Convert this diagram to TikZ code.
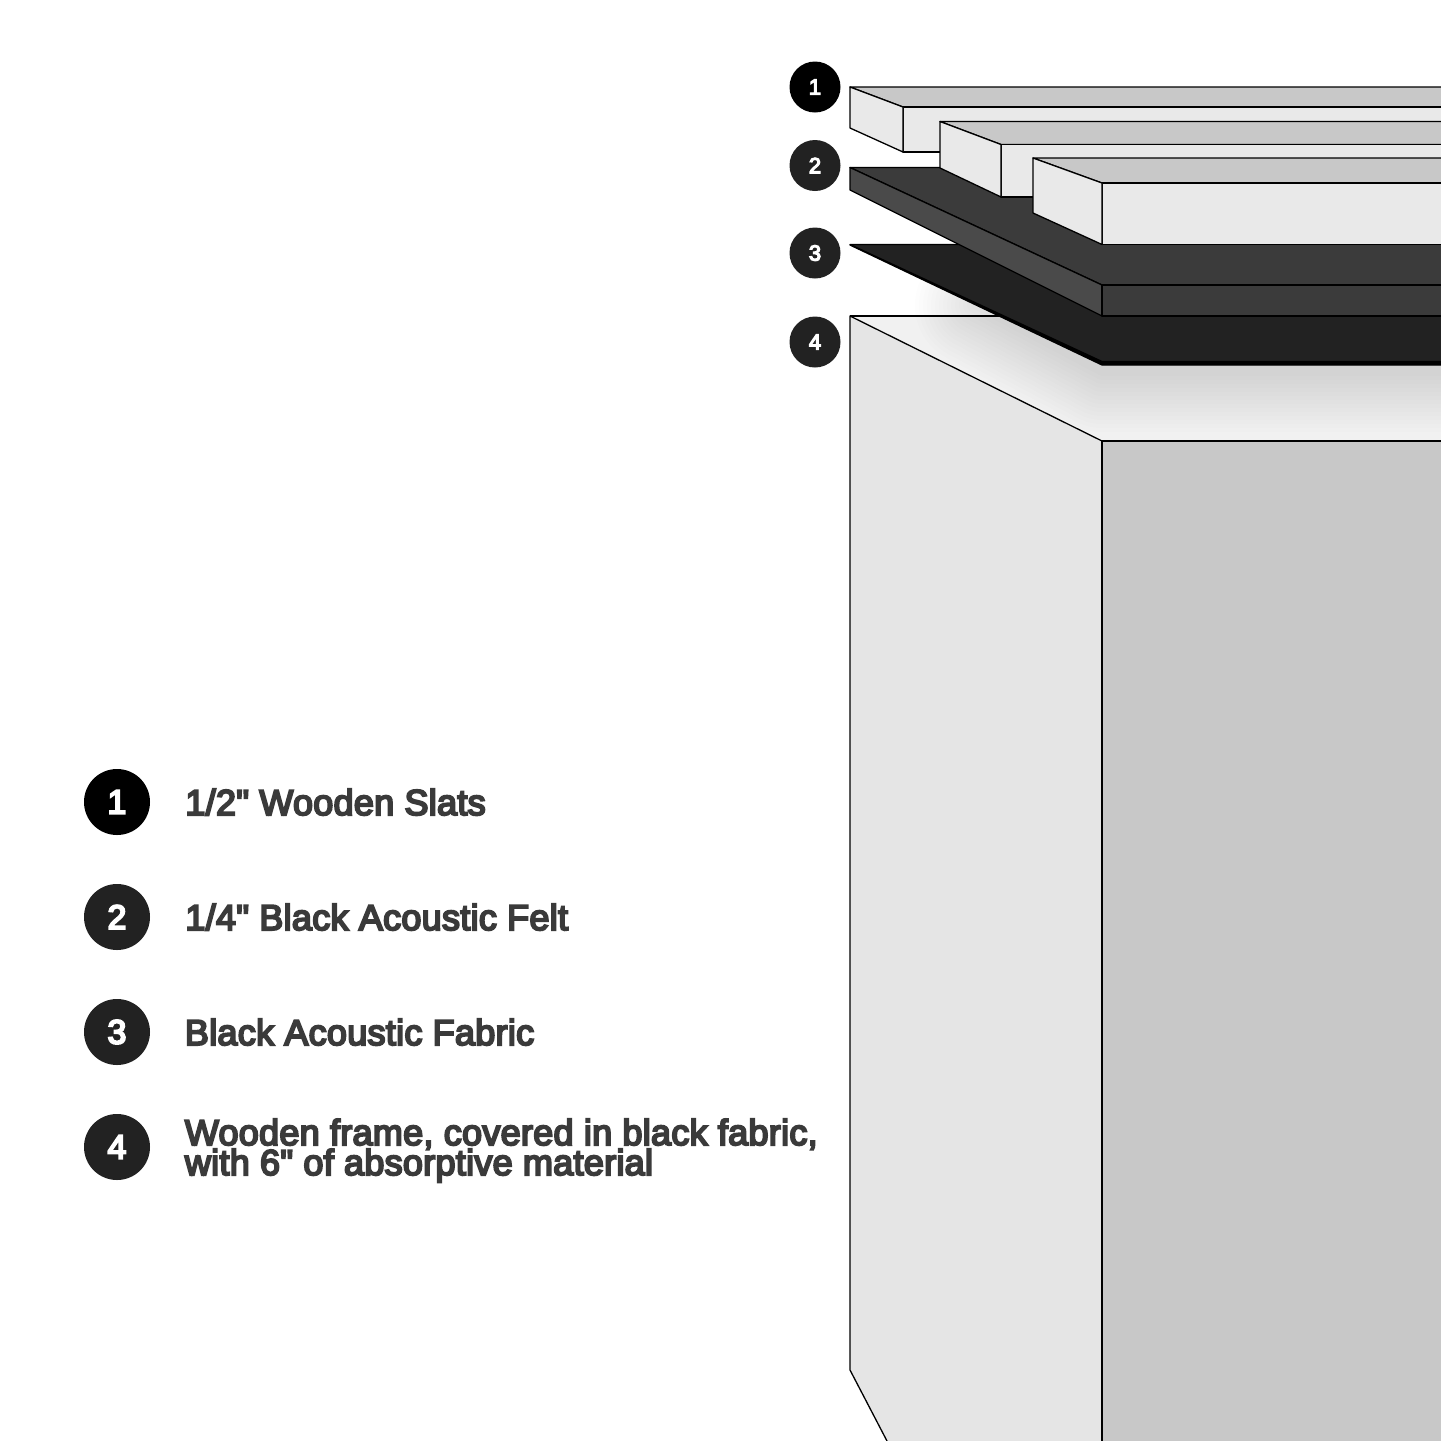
\documentclass[tikz,border=0pt]{standalone}
\usepackage{fontspec}
\setmainfont{Liberation Sans}
\newfontfamily\labelfont[FakeBold=5.5,LetterSpace=0.8]{Liberation Sans}
\newfontfamily\badgefont[FakeBold=5.5]{Liberation Sans}
\definecolor{inktext}{HTML}{3A3A3A}
\definecolor{woodtop}{HTML}{C8C8C8}
\definecolor{woodface}{HTML}{E9E9E9}
\definecolor{felttop}{HTML}{3B3B3B}
\definecolor{feltside}{HTML}{4A4A4A}
\definecolor{fabric}{HTML}{222222}
\definecolor{frametop}{HTML}{F1F1F1}
\definecolor{frameleft}{HTML}{E5E5E5}
\definecolor{frameright}{HTML}{C8C8C8}
\tikzset{
  face/.style={draw=black,line width=0.65pt,line join=round},
  bigbadge/.style={circle,inner sep=0pt,minimum size=33pt,text=white,font=\badgefont\fontsize{17}{17}\selectfont},
  smallbadge/.style={circle,inner sep=0pt,minimum size=25.5pt,text=white,font=\badgefont\fontsize{11}{11}\selectfont},
  legendtext/.style={anchor=base west,inner sep=0pt,text=inktext,font=\labelfont\fontsize{18}{15}\selectfont}
}
\begin{document}
\begin{tikzpicture}[x=0.5pt,y=-0.5pt]
\useasboundingbox (0,0) rectangle (1441,1441);
\fill[white] (0,0) rectangle (1441,1441);
\begin{scope}
\clip (0,0) rectangle (1441,1441);
% frame
\fill[frametop] (850,316) -- (1441,316) -- (1441,441) -- (1102,441) -- cycle;
% cast shadow
\begin{scope}
\clip (850,250) -- (1441,250) -- (1441,441) -- (1102,441) -- (850,316) -- cycle;
\foreach \w in {8,16,...,120} {
  \begin{scope}[transparency group,opacity=0.0085]
  \filldraw[black,line width=\w*0.5pt,line join=round]
    (975,305) -- (1102,372) -- (1480,372) -- (1480,300) -- cycle;
  \end{scope}
}
\end{scope}
\draw[face,fill=frameleft] (850,316) -- (1102,441) -- (1102,1450) -- (891.7,1450) -- (850,1370) -- cycle;
\draw[face,fill=frameright] (1102,441) -- (1450,441) -- (1450,1450) -- (1102,1450) -- cycle;
\draw[face] (850,316) -- (1102,316);
% fabric
\draw[face,fill=black] (850,245) -- (1102,365) -- (1450,365) -- (1450,300) -- cycle;
\draw[face,fill=fabric] (850,244.5) -- (1450,244.5) -- (1450,361.5) -- (1102,361.5) -- cycle;
% felt
\draw[face,fill=felttop] (850,167.5) -- (1450,167.5) -- (1450,285) -- (1102,285) -- cycle;
\draw[face,fill=feltside] (850,167.5) -- (1102,285) -- (1102,316) -- (850,190) -- cycle;
\draw[face,fill=felttop] (1102,285) -- (1450,285) -- (1450,316) -- (1102,316) -- cycle;
% slat 1
\draw[face,fill=woodtop] (850,87) -- (1450,87) -- (1450,107) -- (903,107) -- cycle;
\draw[face,fill=woodface] (903,107) -- (1450,107) -- (1450,152) -- (903,152) -- cycle;
\draw[face,fill=woodface] (850,87) -- (903,107) -- (903,152) -- (850,128) -- cycle;
% slat 2
\draw[face,fill=woodtop] (940,121.5) -- (1450,121.5) -- (1450,144.5) -- (1001,144.5) -- cycle;
\draw[face,fill=woodface] (1001,144.5) -- (1450,144.5) -- (1450,197) -- (1001,197) -- cycle;
\draw[face,fill=woodface] (940,121.5) -- (1001,144.5) -- (1001,197) -- (940,168) -- cycle;
% slat 3
\draw[face,fill=woodtop] (1033,158) -- (1450,158) -- (1450,183) -- (1102,183) -- cycle;
\draw[face,fill=woodface] (1102,183) -- (1450,183) -- (1450,244.5) -- (1102,244.5) -- cycle;
\draw[face,fill=woodface] (1033,158) -- (1102,183) -- (1102,244.5) -- (1033,213) -- cycle;
\end{scope}
% small badges
\node[smallbadge,fill=black]  (s1) at (815,87)  {1};
\node[smallbadge,fill=fabric] (s2) at (815,165.5) {2};
\node[smallbadge,fill=fabric] (s3) at (815,253) {3};
\node[smallbadge,fill=fabric] (s4) at (815,342) {4};
% legend
\node[bigbadge,fill=black]  (b1) at (117,802)  {1};
\node[bigbadge,fill=fabric] (b2) at (117,917)  {2};
\node[bigbadge,fill=fabric] (b3) at (117,1032) {3};
\node[bigbadge,fill=fabric] (b4) at (117,1147) {4};
\node[legendtext] (t1) at (185,815)  {1/2" Wooden Slats};
\node[legendtext] (t2) at (185,930)  {1/4" Black Acoustic Felt};
\node[legendtext] (t3) at (184.5,1045) {Black Acoustic Fabric};
\node[legendtext] (t4a) at (184.5,1145) {Wooden frame, covered in black fabric,};
\node[legendtext] (t4b) at (184.5,1175) {with 6" of absorptive material};
\end{tikzpicture}
\end{document}
